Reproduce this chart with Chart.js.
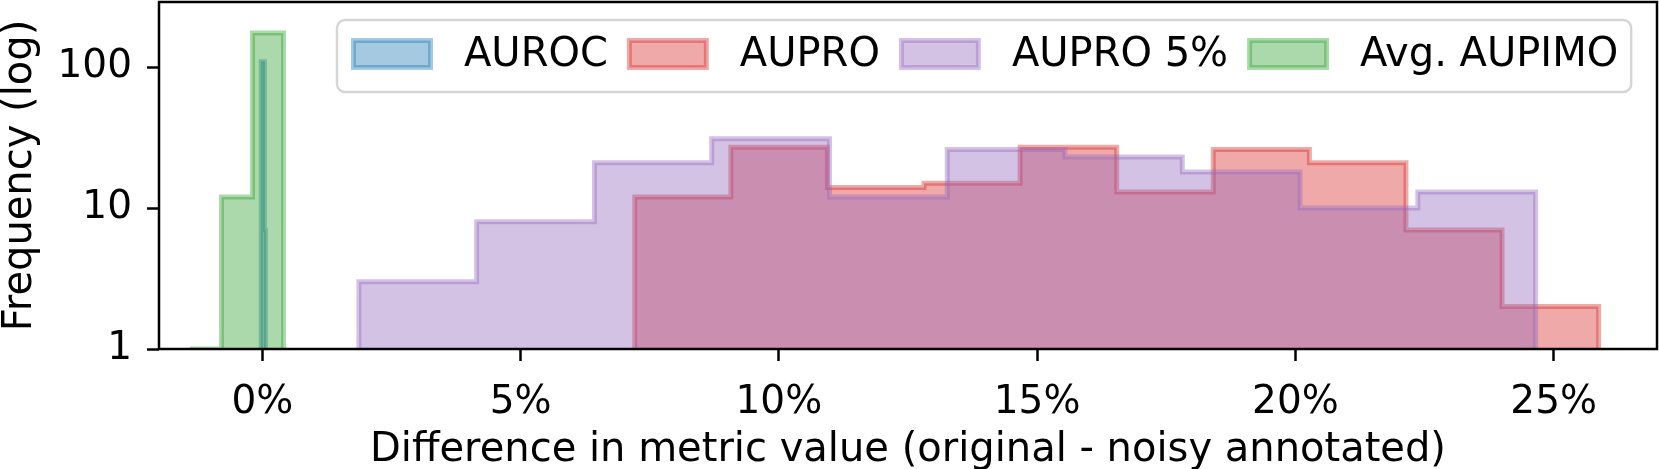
<!DOCTYPE html>
<html>
<head>
<meta charset="utf-8">
<script src="https://cdn.jsdelivr.net/npm/chart.js@4/dist/chart.umd.min.js"></script>
<style>
  html, body { margin: 0; padding: 0; background: #fff; }
</style>
</head>
<body>
<canvas id="myChart" width="1659" height="469"></canvas>
<script>
// histogram bins: edges in %, counts per bin
const aurocEdges = [-0.03, 0.05, 0.07];
const aurocCounts = [110, 7];
const auproEdges = [7.21, 9.07, 10.94, 12.81, 14.67, 16.54, 18.41, 20.27, 22.14, 24.00, 25.87];
const auproCounts = [12, 27, 14, 15, 27, 13, 26, 21, 7, 2];
const aupro5Edges = [1.87, 4.15, 6.43, 8.70, 10.98, 13.26, 15.54, 17.81, 20.09, 22.37, 24.65];
const aupro5Counts = [3, 8, 21, 31, 12, 26, 23, 18, 10, 13];
const aupimoEdges = [-1.40, -0.79, -0.19, 0.41];
const aupimoCounts = [1, 12, 175];

const seriesNames = ["AUROC", "AUPRO", "AUPRO 5%", "Avg. AUPIMO"];
const seriesColors = ["31,119,180", "214,39,40", "148,103,189", "44,160,44"];
const xTicks = [0, 5, 10, 15, 20, 25];
const yTicks = [1, 10, 100];

const FONT = '"DejaVu Sans", sans-serif';

// turn edges + counts into a step outline that starts and ends on the floor (1)
function stepPoints(edges, counts) {
    const pts = [{x: edges[0], y: 1}];
    counts.forEach((c, i) => {
        pts.push({x: edges[i], y: c});
    });
    pts.push({x: edges[edges.length - 1], y: 1});
    return pts;
}

function histSet(i, edges, counts, order) {
    return {
        label: seriesNames[i],
        data: stepPoints(edges, counts),
        stepped: 'before',
        fill: 'start',
        backgroundColor: 'rgba(' + seriesColors[i] + ',0.4)',
        borderColor: 'rgba(' + seriesColors[i] + ',0.4)',
        borderWidth: i == 0 ? 4 : 5,
        borderJoinStyle: 'miter',
        pointRadius: 0,
        pointHoverRadius: 0,
        tension: 0,
        clip: 0,
        order: order
    };
}

// black frame round the plot, plus a matplotlib style legend inside it
const frameLegend = {
    id: 'frameLegend',
    afterDatasetsDraw(chart) {
        const {ctx, chartArea: a} = chart;
        ctx.save();
        ctx.strokeStyle = '#000';
        ctx.lineWidth = 2.5;
        ctx.strokeRect(a.left, a.top, a.right - a.left, a.bottom - a.top);
        ctx.restore();
    },
    afterDraw(chart) {
        const ctx = chart.ctx;
        ctx.save();
        ctx.font = '40px ' + FONT;
        const boxLeft = 337, boxTop = 20, boxBottom = 92;
        let x = 351;
        const items = [];
        seriesNames.forEach((name, i) => {
            const w = ctx.measureText(name).width;
            items.push({x: x, tx: x + 82 + 31, name: name, color: seriesColors[i]});
            x += 82 + 31 + w + 19;
        });
        const boxRight = x - 19 + 13;

        ctx.beginPath();
        ctx.roundRect(boxLeft, boxTop, boxRight - boxLeft, boxBottom - boxTop, 8);
        ctx.fillStyle = 'rgba(255,255,255,0.8)';
        ctx.fill();
        ctx.strokeStyle = '#d6d6d6';
        ctx.lineWidth = 2.5;
        ctx.stroke();

        items.forEach(it => {
            ctx.fillStyle = 'rgba(' + it.color + ',0.4)';
            ctx.fillRect(it.x + 2.5, 40.5, 77, 27);
            ctx.strokeStyle = 'rgba(' + it.color + ',0.4)';
            ctx.lineWidth = 5;
            ctx.strokeRect(it.x + 2.5, 40.5, 77, 27);
            ctx.fillStyle = '#000';
            ctx.textBaseline = 'middle';
            ctx.textAlign = 'left';
            ctx.fillText(it.name, it.tx, 56);
        });
        ctx.restore();
    }
};

const ctx = document.getElementById('myChart');
const myChart = new Chart(ctx, {
    type: 'line',
    data: {
        datasets: [
            histSet(0, aurocEdges, aurocCounts, 3),
            histSet(1, auproEdges, auproCounts, 2),
            histSet(2, aupro5Edges, aupro5Counts, 1),
            histSet(3, aupimoEdges, aupimoCounts, 0)
        ]
    },
    options: {
        responsive: false,
        animation: false,
        devicePixelRatio: 1,
        layout: { padding: { top: 2, right: 2, left: 0, bottom: 0 } },
        plugins: {
            legend: { display: false },
            tooltip: { enabled: false }
        },
        scales: {
            x: {
                type: 'linear',
                min: -2,
                max: 27,
                afterBuildTicks: s => { s.ticks = xTicks.map(v => ({value: v})); },
                afterFit: s => {
                    s.height = 120;
                    s.paddingLeft = 0; s.paddingRight = 0;
                },
                border: { display: false },
                grid: {
                    drawOnChartArea: false,
                    drawTicks: true,
                    tickLength: 12,
                    tickWidth: 2.5,
                    tickColor: '#000'
                },
                ticks: {
                    color: '#000',
                    padding: 18,
                    maxRotation: 0,
                    font: { family: FONT, size: 39 },
                    callback: v => v + '%'
                },
                title: {
                    display: true,
                    text: 'Difference in metric value (original - noisy annotated)',
                    color: '#000',
                    font: { family: FONT, size: 40, lineHeight: 1 },
                    padding: { top: 0, bottom: -2 }
                }
            },
            y: {
                type: 'logarithmic',
                min: 1,
                max: 290,
                afterBuildTicks: s => { s.ticks = yTicks.map(v => ({value: v})); },
                afterFit: s => {
                    s.width = 159;
                    s.paddingTop = 0; s.paddingBottom = 0;
                },
                border: { display: false },
                grid: {
                    drawOnChartArea: false,
                    drawTicks: true,
                    tickLength: 12,
                    tickWidth: 2.5,
                    tickColor: '#000'
                },
                ticks: {
                    color: '#000',
                    padding: 15,
                    font: { family: FONT, size: 39 },
                    callback: v => String(v)
                },
                title: {
                    display: true,
                    text: 'Frequency (log)',
                    color: '#000',
                    font: { family: FONT, size: 40, lineHeight: 1 },
                    padding: { top: 1, bottom: 0 }
                }
            }
        }
    },
    plugins: [frameLegend]
});
</script>
</body>
</html>
